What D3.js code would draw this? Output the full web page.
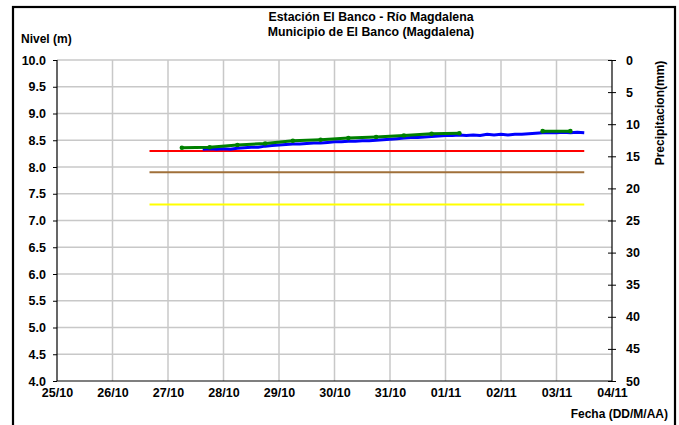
<!DOCTYPE html>
<html><head><meta charset="utf-8">
<script src="https://cdn.jsdelivr.net/npm/d3@7"></script>
<style>body{margin:0;background:#fff}svg{display:block}text{font-family:"Liberation Sans",Arial,sans-serif;font-weight:bold;fill:#000}</style>
</head><body><svg id="c" width="679" height="425"></svg>
<script>
const titleLines = ["Estación El Banco - Río Magdalena", "Municipio de El Banco (Magdalena)"];
const leftTicks = [4.0,4.5,5.0,5.5,6.0,6.5,7.0,7.5,8.0,8.5,9.0,9.5,10.0];
const rightTicks = [0,5,10,15,20,25,30,35,40,45,50];
const dayTicks = ["2023-10-25","2023-10-26","2023-10-27","2023-10-28","2023-10-29","2023-10-30","2023-10-31","2023-11-01","2023-11-02","2023-11-03","2023-11-04"];
// green series (12-hourly, null = gap)
const greenTimes = ["2023-10-27T06:00","2023-10-27T18:00","2023-10-28T06:00","2023-10-28T18:00","2023-10-29T06:00","2023-10-29T18:00","2023-10-30T06:00","2023-10-30T18:00","2023-10-31T06:00","2023-10-31T18:00","2023-11-01T06:00","2023-11-01T18:00","2023-11-02T06:00","2023-11-02T18:00","2023-11-03T06:00"];
const greenValues = [8.36,8.37,8.41,8.44,8.49,8.51,8.54,8.56,8.59,8.62,8.63,null,null,8.67,8.67];
// blue series (3-hourly)
const blueStart = "2023-10-27T15:00";
const blueValues = [8.33,8.34,8.33,
 8.34,8.33,8.35,8.36,8.37,8.37,8.39,8.40,
 8.41,8.42,8.43,8.43,8.44,8.45,8.45,8.46,
 8.47,8.47,8.48,8.48,8.49,8.49,8.50,8.51,
 8.52,8.53,8.54,8.55,8.55,8.56,8.57,8.58,
 8.59,8.59,8.60,8.59,8.60,8.59,8.61,8.60,
 8.61,8.60,8.61,8.61,8.62,8.63,8.64,8.64,
 8.64,8.65,8.64,8.65,8.64];
const refLevels = [8.3, 7.9, 7.3];
const refColors = ["#ff0000","#a0703a","#ffff00"];
const refStart = "2023-10-26T16:00", refEnd = "2023-11-03T12:00";

const parse = d3.isoParse;
const svg = d3.select("#c");
const L=57, R=612, T=60, B=381;
const x = d3.scaleTime().domain([parse(dayTicks[0]), parse(dayTicks[dayTicks.length-1])]).range([L,R]);
const y = d3.scaleLinear().domain([4,10]).range([B,T]);
const y2 = d3.scaleLinear().domain([0,50]).range([T,B]);

// frame
svg.append("rect").attr("x",13).attr("y",7).attr("width",662).attr("height",430).attr("fill","none").attr("stroke","#000").attr("stroke-width",2.2);

// grid
const g = svg.append("g");
g.selectAll(".hg").data(leftTicks.slice(1)).join("line").attr("x1",L).attr("x2",R).attr("y1",d=>y(d)).attr("y2",d=>y(d)).attr("stroke","#c8c8c8").attr("stroke-width",1.5);
g.selectAll(".vg").data(dayTicks.slice(1,-1)).join("line").attr("x1",d=>x(parse(d))).attr("x2",d=>x(parse(d))).attr("y1",T).attr("y2",B).attr("stroke","#c8c8c8").attr("stroke-width",1.5);

// ref lines
svg.selectAll(".ref").data(refLevels).join("line").attr("x1",x(parse(refStart))).attr("x2",x(parse(refEnd))).attr("y1",d=>y(d)).attr("y2",d=>y(d)).attr("stroke",(d,i)=>refColors[i]).attr("stroke-width",2);

// blue
const bt0 = parse(blueStart);
const blueData = blueValues.map((v,i)=>({t:new Date(bt0.getTime()+i*3*3600e3), v}));
svg.append("path").datum(blueData).attr("fill","none").attr("stroke","#0000ff").attr("stroke-width",3)
  .attr("d", d3.line().x(d=>x(d.t)).y(d=>y(d.v)));
// green
const greenData = greenTimes.map((t,i)=>({t:parse(t), v:greenValues[i]}));
svg.append("path").datum(greenData).attr("fill","none").attr("stroke","#008000").attr("stroke-width",3)
  .attr("d", d3.line().defined(d=>d.v!=null).x(d=>x(d.t)).y(d=>y(d.v)));
svg.selectAll(".gp").data(greenData.filter(d=>d.v!=null)).join("circle").attr("cx",d=>x(d.t)).attr("cy",d=>y(d.v)).attr("r",2.3).attr("fill","#008000");

// axes
const fs = "12.5px";
const ax = d3.axisLeft(y).tickValues(leftTicks).tickFormat(d3.format(".1f")).tickSize(4).tickPadding(7);
const gl = svg.append("g").attr("transform",`translate(${L},0)`).call(ax);
const ar = d3.axisRight(y2).tickValues(rightTicks).tickSize(4).tickPadding(10);
const gr = svg.append("g").attr("transform",`translate(${R},0)`).call(ar);
gr.selectAll(".tick line").attr("x1",-4);
const ab = d3.axisBottom(x).tickValues(dayTicks.map(parse)).tickFormat(d3.timeFormat("%d/%m")).tickSize(0).tickPadding(7);
const gb = svg.append("g").attr("transform",`translate(0,${B})`).call(ab);
[gl,gr,gb].forEach(a=>{a.select(".domain").attr("stroke","#000").attr("stroke-width",1.2);a.selectAll(".tick line").attr("stroke","#000");a.selectAll("text").attr("font-size",fs).attr("font-family","Liberation Sans, Arial").attr("font-weight","bold");});
gl.select(".domain").attr("d",`M0,${B}V${T}`);
gr.select(".domain").attr("d",`M0,${T}V${B}`);
gb.select(".domain").attr("d",`M${L},0H${R}`);

// titles
svg.selectAll(".tt").data(titleLines).join("text").attr("x",371).attr("y",(d,i)=>21+i*14.5).attr("text-anchor","middle").attr("font-size","12.3px").text(d=>d);
svg.append("text").attr("x",21).attr("y",43).attr("font-size","12px").text("Nivel (m)");
svg.append("text").attr("x",668).attr("y",418).attr("text-anchor","end").attr("font-size","12px").text("Fecha (DD/M/AA)");
svg.append("text").attr("transform","translate(664,113) rotate(-90)").attr("text-anchor","middle").attr("font-size","12px").text("Precipitacion(mm)");
</script></body></html>
